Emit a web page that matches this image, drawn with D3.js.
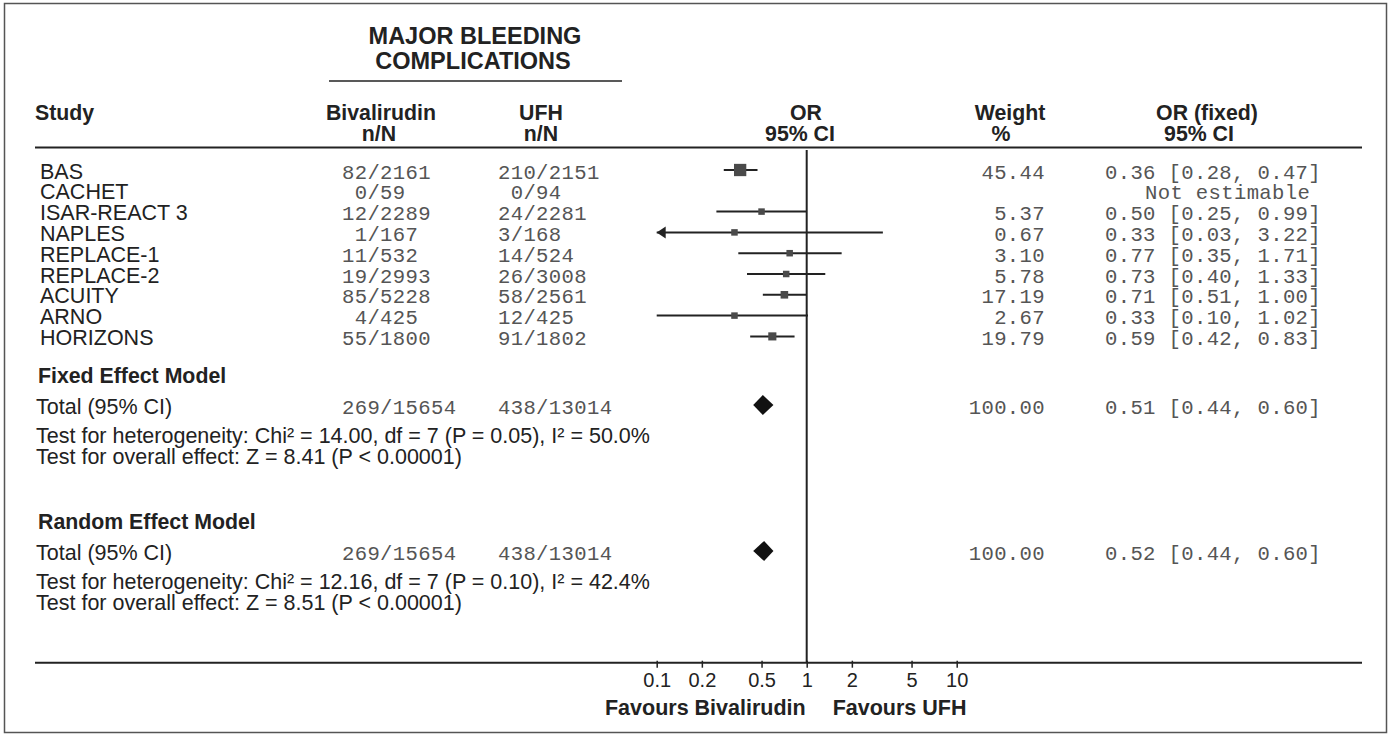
<!DOCTYPE html>
<html>
<head>
<meta charset="utf-8">
<script src="https://cdn.jsdelivr.net/npm/d3@7"></script>
<style>
  html, body { margin: 0; padding: 0; background: #fff; }
  svg { display: block; }
  .sans { font-family: "Liberation Sans", Arial, sans-serif; fill: #222; }
  .bold { font-weight: bold; }
  .mono { font-family: "Liberation Mono", "Courier New", monospace; fill: #555; white-space: pre; letter-spacing: 0.35px; }
</style>
</head>
<body>
<svg id="chart" width="1391" height="735"></svg>
<script>
// ---------------- data ----------------
const studies   = ["BAS", "CACHET", "ISAR-REACT 3", "NAPLES", "REPLACE-1", "REPLACE-2", "ACUITY", "ARNO", "HORIZONS"];
const bivalText = ["82/2161", " 0/59", "12/2289", " 1/167", "11/532", "19/2993", "85/5228", " 4/425", "55/1800"];
const ufhText   = ["210/2151", " 0/94", "24/2281", "3/168", "14/524", "26/3008", "58/2561", "12/425", "91/1802"];
const weights   = [45.44, null, 5.37, 0.67, 3.10, 5.78, 17.19, 2.67, 19.79];
const orValues  = [0.36, null, 0.50, 0.33, 0.77, 0.73, 0.71, 0.33, 0.59];
const ciLower   = [0.28, null, 0.25, 0.03, 0.35, 0.40, 0.51, 0.10, 0.42];
const ciUpper   = [0.47, null, 0.99, 3.22, 1.71, 1.33, 1.00, 1.02, 0.83];

const models        = ["Fixed Effect Model", "Random Effect Model"];
const modelOR       = [0.51, 0.52];
const modelLower    = [0.44, 0.44];
const modelUpper    = [0.60, 0.60];
const modelWeight   = [100.00, 100.00];
const totalBival    = ["269/15654", "269/15654"];
const totalUfh      = ["438/13014", "438/13014"];
const heterogeneity = [
  "Test for heterogeneity: Chi² = 14.00, df = 7 (P = 0.05), I² = 50.0%",
  "Test for heterogeneity: Chi² = 12.16, df = 7 (P = 0.10), I² = 42.4%"
];
const overallEffect = [
  "Test for overall effect: Z = 8.41 (P < 0.00001)",
  "Test for overall effect: Z = 8.51 (P < 0.00001)"
];
const tickValues = [0.1, 0.2, 0.5, 1, 2, 5, 10];
const tickLabels = ["0.1", "0.2", "0.5", "1", "2", "5", "10"];

// ---------------- layout ----------------
const svg = d3.select("#chart");
const f2 = d3.format(".2f");

const x = d3.scaleLog().domain([0.1, 10]).range([656.7, 956.7]);
const y = d3.scalePoint().domain(studies).range([170, 336.4]);
const size = d3.scaleSqrt().domain([0, d3.max(weights)]).range([0, 12.3]);

const TXT = 8.5;            // text baseline offset from row centre
const MONO = 20.6;
const LINE = 20.8;          // line step for stacked texts
const colStudy = 40, colBival = 342, colUfh = 498, colWeightR = 1045, colOR = 1105;
const lineL = 35, lineR = 1362;
const axisY = 662.7;

// outer frame
svg.append("rect").attr("x", 4.5).attr("y", 3.5).attr("width", 1382).attr("height", 729)
  .attr("fill", "none").attr("stroke", "#555").attr("stroke-width", 1.5);

// title
const title = svg.append("g").attr("class", "sans bold").attr("font-size", 23.5).attr("text-anchor", "middle");
title.append("text").attr("x", 475).attr("y", 44).text("MAJOR BLEEDING");
title.append("text").attr("x", 473).attr("y", 69).text("COMPLICATIONS");
svg.append("line").attr("x1", 329).attr("x2", 622).attr("y1", 81).attr("y2", 81)
  .attr("stroke", "#222").attr("stroke-width", 1.6);

// column headers
const H1 = 120, H2 = 120 + LINE;
const hdr = svg.append("g").attr("class", "sans bold").attr("font-size", 21.3);
hdr.append("text").attr("x", 35).attr("y", H1).text("Study");
hdr.append("text").attr("x", 381).attr("y", H1).attr("text-anchor", "middle").text("Bivalirudin");
hdr.append("text").attr("x", 379).attr("y", H2).attr("text-anchor", "middle").text("n/N");
hdr.append("text").attr("x", 541).attr("y", H1).attr("text-anchor", "middle").text("UFH");
hdr.append("text").attr("x", 541).attr("y", H2).attr("text-anchor", "middle").text("n/N");
hdr.append("text").attr("x", 806).attr("y", H1).attr("text-anchor", "middle").text("OR");
hdr.append("text").attr("x", 800).attr("y", H2).attr("text-anchor", "middle").text("95% CI");
hdr.append("text").attr("x", 1010).attr("y", H1).attr("text-anchor", "middle").text("Weight");
hdr.append("text").attr("x", 1001).attr("y", H2).attr("text-anchor", "middle").text("%");
hdr.append("text").attr("x", 1207).attr("y", H1).attr("text-anchor", "middle").text("OR (fixed)");
hdr.append("text").attr("x", 1199).attr("y", H2).attr("text-anchor", "middle").text("95% CI");
svg.append("line").attr("x1", lineL).attr("x2", lineR).attr("y1", 147.5).attr("y2", 147.5)
  .attr("stroke", "#222").attr("stroke-width", 2);

// line of no effect
svg.append("line").attr("x1", x(1)).attr("x2", x(1)).attr("y1", 150).attr("y2", axisY)
  .attr("stroke", "#222").attr("stroke-width", 2);

// study rows
const rows = svg.append("g").selectAll("g").data(studies).join("g")
  .attr("transform", d => `translate(0,${y(d)})`);
rows.append("text").attr("class", "sans").attr("font-size", 21.5)
  .attr("x", colStudy).attr("y", TXT).text(d => d);
rows.append("text").attr("class", "mono").attr("font-size", MONO)
  .attr("x", colBival).attr("y", TXT).text((d, i) => bivalText[i]);
rows.append("text").attr("class", "mono").attr("font-size", MONO)
  .attr("x", colUfh).attr("y", TXT).text((d, i) => ufhText[i]);
rows.append("text").attr("class", "mono").attr("font-size", MONO)
  .attr("x", colWeightR).attr("y", TXT).attr("text-anchor", "end")
  .text((d, i) => weights[i] == null ? "" : f2(weights[i]));
rows.append("text").attr("class", "mono").attr("font-size", MONO)
  .attr("x", (d, i) => orValues[i] == null ? 1145 : colOR).attr("y", TXT)
  .text((d, i) => orValues[i] == null ? "Not estimable"
        : `${f2(orValues[i])} [${f2(ciLower[i])}, ${f2(ciUpper[i])}]`);

// CI lines, arrows, squares
const [dMin, dMax] = x.domain();
rows.filter((d, i) => orValues[i] != null).each(function (d) {
  const i = studies.indexOf(d);
  const g = d3.select(this);
  const lo = Math.max(ciLower[i], dMin), hi = Math.min(ciUpper[i], dMax);
  g.append("line").attr("x1", x(lo)).attr("x2", x(hi)).attr("y1", 0).attr("y2", 0)
    .attr("stroke", "#222").attr("stroke-width", 2);
  if (ciLower[i] < dMin) {
    const ax = x(dMin);
    g.append("path").attr("d", `M${ax},0 L${ax + 9},-6 L${ax + 9},6 Z`).attr("fill", "#222");
  }
  const s = Math.max(6.5, size(weights[i]));
  g.append("rect").attr("x", x(orValues[i]) - s / 2).attr("y", -s / 2)
    .attr("width", s).attr("height", s).attr("fill", "#4a4a4a");
});

// model sections
const modelTitleY = [383, 529];
const modelTotalY = [405, 551];
const testY       = [443, 589];
models.forEach((m, k) => {
  svg.append("text").attr("class", "sans bold").attr("font-size", 21.3)
    .attr("x", 38).attr("y", modelTitleY[k]).text(m);
  const cy = modelTotalY[k];
  svg.append("text").attr("class", "sans").attr("font-size", 21.5)
    .attr("x", 36).attr("y", cy + TXT).text("Total (95% CI)");
  svg.append("text").attr("class", "mono").attr("font-size", MONO)
    .attr("x", colBival).attr("y", cy + TXT).text(totalBival[k]);
  svg.append("text").attr("class", "mono").attr("font-size", MONO)
    .attr("x", colUfh).attr("y", cy + TXT).text(totalUfh[k]);
  svg.append("text").attr("class", "mono").attr("font-size", MONO)
    .attr("x", colWeightR).attr("y", cy + TXT).attr("text-anchor", "end").text(f2(modelWeight[k]));
  svg.append("text").attr("class", "mono").attr("font-size", MONO)
    .attr("x", colOR).attr("y", cy + TXT)
    .text(`${f2(modelOR[k])} [${f2(modelLower[k])}, ${f2(modelUpper[k])}]`);
  svg.append("path")
    .attr("d", `M${x(modelLower[k])},${cy} L${x(modelOR[k])},${cy - 10} L${x(modelUpper[k])},${cy} L${x(modelOR[k])},${cy + 10} Z`)
    .attr("fill", "#111");
  svg.append("text").attr("class", "sans").attr("font-size", 21.5)
    .attr("x", 36).attr("y", testY[k]).text(heterogeneity[k]);
  svg.append("text").attr("class", "sans").attr("font-size", 21.5)
    .attr("x", 36).attr("y", testY[k] + LINE).text(overallEffect[k]);
});

// axis
svg.append("line").attr("x1", lineL).attr("x2", lineR).attr("y1", axisY).attr("y2", axisY)
  .attr("stroke", "#222").attr("stroke-width", 2);
const axis = d3.axisBottom(x).tickValues(tickValues)
  .tickFormat((d, i) => tickLabels[i]).tickSize(5).tickPadding(5);
const axG = svg.append("g").attr("transform", `translate(0,${axisY})`).call(axis);
axG.select(".domain").remove();
axG.selectAll(".tick line").attr("stroke", "#222").attr("stroke-width", 1.5).attr("y1", -2);
axG.selectAll(".tick text").attr("font-family", "Liberation Sans, Arial, sans-serif")
  .attr("font-size", 20).attr("fill", "#222").attr("dy", "0.71em");

svg.append("text").attr("class", "sans bold").attr("font-size", 21.5)
  .attr("x", x(1) - 1).attr("y", 715).attr("text-anchor", "end").text("Favours Bivalirudin");
svg.append("text").attr("class", "sans bold").attr("font-size", 21.5)
  .attr("x", x(1) + 26).attr("y", 715).text("Favours UFH");
</script>
</body>
</html>
